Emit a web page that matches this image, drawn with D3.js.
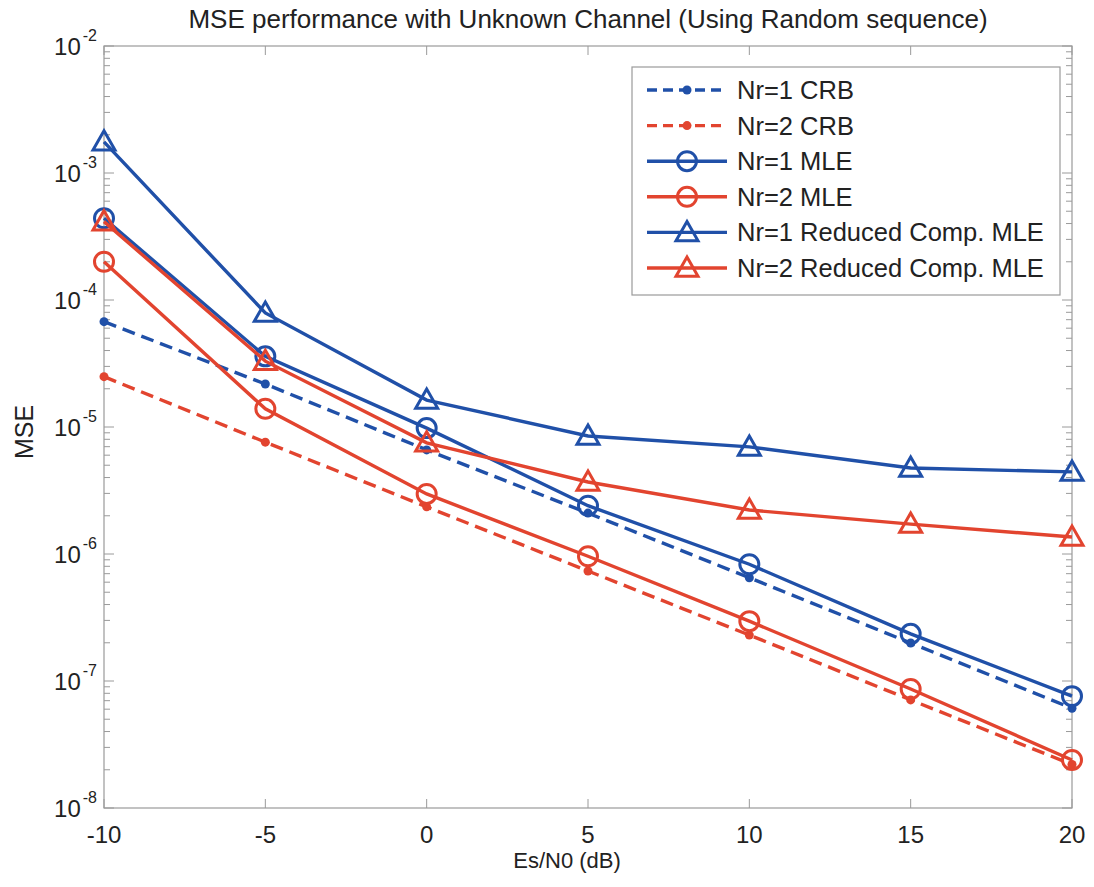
<!DOCTYPE html>
<html>
<head>
<meta charset="utf-8">
<script src="https://cdn.jsdelivr.net/npm/d3@7"></script>
<style>
  body { margin: 0; background: #fff; }
  svg { font-family: "Liberation Sans", Arial, sans-serif; }
</style>
</head>
<body>
<div id="chart"></div>
<script>
// --- DATA ---
const snr = [-10, -5, 0, 5, 10, 15, 20];
const crbNr1 = [6.75e-5, 2.18e-5, 6.6e-6, 2.1e-6, 6.5e-7, 1.99e-7, 6.1e-8];
const crbNr2 = [2.49e-5, 7.6e-6, 2.35e-6, 7.35e-7, 2.3e-7, 7.1e-8, 2.2e-8];
const mleNr1 = [4.4e-4, 3.6e-5, 9.8e-6, 2.4e-6, 8.3e-7, 2.35e-7, 7.6e-8];
const mleNr2 = [2.0e-4, 1.39e-5, 2.97e-6, 9.6e-7, 2.96e-7, 8.65e-8, 2.39e-8];
const redNr1 = [1.76e-3, 7.9e-5, 1.63e-5, 8.5e-6, 6.97e-6, 4.75e-6, 4.43e-6];
const redNr2 = [4.14e-4, 3.3e-5, 7.5e-6, 3.69e-6, 2.22e-6, 1.72e-6, 1.36e-6];
const xTicks = [-10, -5, 0, 5, 10, 15, 20];
const yExponents = [-2, -3, -4, -5, -6, -7, -8];

const BLUE = "#2050a8", RED = "#e2442f";
const series = [
  { name: "Nr=1 CRB", values: crbNr1, color: BLUE, dash: true, marker: "dot" },
  { name: "Nr=2 CRB", values: crbNr2, color: RED, dash: true, marker: "dot" },
  { name: "Nr=1 MLE", values: mleNr1, color: BLUE, dash: false, marker: "circle" },
  { name: "Nr=2 MLE", values: mleNr2, color: RED, dash: false, marker: "circle" },
  { name: "Nr=1 Reduced Comp. MLE", values: redNr1, color: BLUE, dash: false, marker: "triangle" },
  { name: "Nr=2 Reduced Comp. MLE", values: redNr2, color: RED, dash: false, marker: "triangle" },
];

// --- LAYOUT ---
const W = 1094, H = 887;
const margin = { top: 46, right: 22, bottom: 79, left: 104 };
const width = W - margin.left - margin.right;
const height = H - margin.top - margin.bottom;
const axisColor = "#9a9a9a", textColor = "#222";

const svg = d3.select("#chart").append("svg")
  .attr("width", W).attr("height", H);
const g = svg.append("g").attr("transform", `translate(${margin.left},${margin.top})`);

const x = d3.scaleLinear().domain([-10, 20]).range([0, width]);
const y = d3.scaleLog().domain([1e-8, 1e-2]).range([height, 0]);

// frame
g.append("rect").attr("width", width).attr("height", height)
  .attr("fill", "none").attr("stroke", axisColor).attr("stroke-width", 1.2);

// minor + major log ticks on left/right (inward)
const allY = [];
for (let e = -8; e < -2; e++) for (let m = 1; m <= 9; m++) allY.push(m * Math.pow(10, e));
allY.push(1e-2);
allY.forEach(v => {
  const major = Math.abs(Math.log10(v) - Math.round(Math.log10(v))) < 1e-9;
  const len = major ? 10 : 6;
  const yy = y(v);
  g.append("line").attr("x1", 0).attr("x2", len).attr("y1", yy).attr("y2", yy)
    .attr("stroke", axisColor).attr("stroke-width", 1);
  g.append("line").attr("x1", width).attr("x2", width - len).attr("y1", yy).attr("y2", yy)
    .attr("stroke", axisColor).attr("stroke-width", 1);
});

// x ticks on bottom/top (inward)
xTicks.forEach(t => {
  const xx = x(t);
  g.append("line").attr("x1", xx).attr("x2", xx).attr("y1", height).attr("y2", height - 9)
    .attr("stroke", axisColor);
  g.append("line").attr("x1", xx).attr("x2", xx).attr("y1", 0).attr("y2", 9)
    .attr("stroke", axisColor);
  g.append("text").attr("x", xx).attr("y", height + 35)
    .attr("text-anchor", "middle").attr("font-size", 24).attr("fill", textColor)
    .text(t);
});

// y tick labels 10^e
yExponents.forEach(e => {
  const yy = y(Math.pow(10, e));
  const t = g.append("text").attr("x", -7).attr("y", yy + 9)
    .attr("text-anchor", "end").attr("font-size", 24).attr("fill", textColor);
  t.append("tspan").text("10");
  t.append("tspan").attr("dx", 2).attr("dy", -14).attr("font-size", 16).text(e);
});

// axis labels and title
svg.append("text").attr("x", 567).attr("y", 868)
  .attr("text-anchor", "middle").attr("font-size", 22).attr("fill", textColor)
  .text("Es/N0 (dB)");
svg.append("text").attr("transform", `translate(33,432) rotate(-90)`)
  .attr("text-anchor", "middle").attr("font-size", 25).attr("fill", textColor)
  .text("MSE");
svg.append("text").attr("x", margin.left + width / 2).attr("y", 28)
  .attr("text-anchor", "middle").attr("font-size", 26).attr("fill", textColor)
  .text("MSE performance with Unknown Channel (Using Random sequence)");

// markers
function drawMarker(sel, type, cx, cy, color) {
  if (type === "dot") {
    sel.append("circle").attr("cx", cx).attr("cy", cy).attr("r", 4.5).attr("fill", color);
  } else if (type === "circle") {
    sel.append("circle").attr("cx", cx).attr("cy", cy).attr("r", 9.5)
      .attr("fill", "none").attr("stroke", color).attr("stroke-width", 3);
  } else {
    const s = 11;
    sel.append("path")
      .attr("d", `M${cx},${cy - s} L${cx + s},${cy + s * 0.75} L${cx - s},${cy + s * 0.75} Z`)
      .attr("fill", "none").attr("stroke", color).attr("stroke-width", 3)
      .attr("stroke-linejoin", "miter");
  }
}

const line = d3.line().x((d, i) => x(snr[i])).y(d => y(d));
series.forEach(s => {
  g.append("path").datum(s.values)
    .attr("fill", "none").attr("stroke", s.color).attr("stroke-width", 3.4)
    .attr("stroke-dasharray", s.dash ? "13,7" : null)
    .attr("d", line);
  s.values.forEach((v, i) => drawMarker(g, s.marker, x(snr[i]), y(v), s.color));
});

// legend
const lg = svg.append("g");
lg.append("rect").attr("x", 632).attr("y", 67).attr("width", 428).attr("height", 228)
  .attr("fill", "#fff").attr("stroke", axisColor).attr("stroke-width", 1.2);
series.forEach((s, i) => {
  const ly = 90 + i * 35.6;
  lg.append("line").attr("x1", 647).attr("x2", 727).attr("y1", ly).attr("y2", ly)
    .attr("stroke", s.color).attr("stroke-width", 3.4)
    .attr("stroke-dasharray", s.dash ? "10,6" : null);
  drawMarker(lg, s.marker, 687, ly, s.color);
  lg.append("text").attr("x", 737).attr("y", ly + 9).attr("font-size", 25.5)
    .attr("fill", textColor).text(s.name);
});
</script>
</body>
</html>
